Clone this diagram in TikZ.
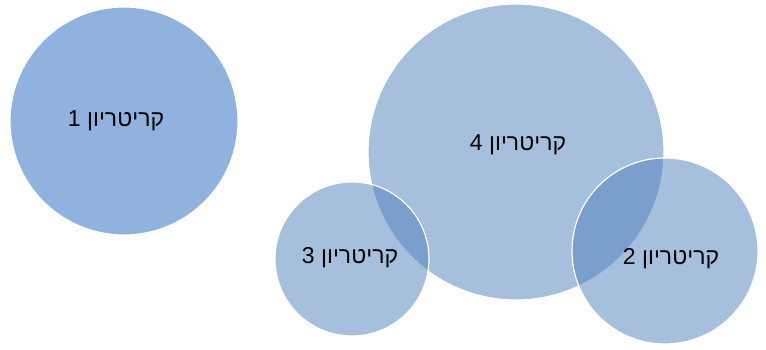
\documentclass[tikz,border=0pt]{standalone}
\usepackage{fontspec}
\setmainfont{Liberation Sans}
\newfontfamily\hebfont[Script=Hebrew]{Liberation Sans}
\TeXXeTstate=1
\usetikzlibrary{positioning}

\definecolor{critblue}{RGB}{79,129,189}
\definecolor{critfirst}{RGB}{143,178,222}

\begin{document}
\begin{tikzpicture}[
  x=1pt, y=-1pt,
  crit/.style={circle, draw=white, line width=1.2pt, fill=critblue, fill opacity=0.5, inner sep=0pt},
  crittext/.style={inner sep=0pt, text=black, font=\hebfont\fontsize{23}{27}\selectfont}
]
\useasboundingbox[fill=white] (0,0) rectangle (766,350);

\node[crit, fill=critfirst, fill opacity=1, minimum size=228pt] (c1) at (124,121) {};
\node[crit, minimum size=296pt] (c4) at (516,152) {};
\node[crit, minimum size=154pt] (c3) at (352,259) {};
\node[crit, minimum size=186pt] (c2) at (665,251) {};

\node[crittext] (t1) at (116,121) {\beginR קריטריון 1\endR};
\node[crittext] (t4) at (518,145) {\beginR קריטריון 4\endR};
\node[crittext] (t3) at (350,258) {\beginR קריטריון 3\endR};
\node[crittext] (t2) at (671,259) {\beginR קריטריון 2\endR};
\end{tikzpicture}
\end{document}
